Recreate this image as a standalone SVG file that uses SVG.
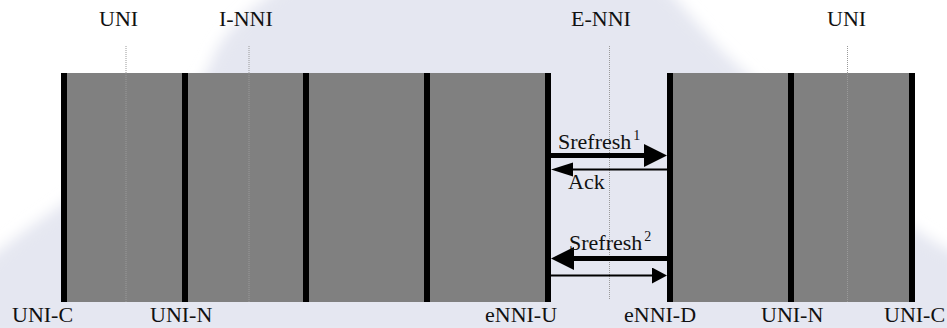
<svg xmlns="http://www.w3.org/2000/svg" width="947" height="328" viewBox="0 0 947 328">
  <style>
    text { font-family: Liberation Serif, Times New Roman, Tinos, DejaVu Serif, serif; font-size: 22px; fill: #111; }
    .sup { font-size: 14px; }
    .seg { fill: #808080; }
    .bar { fill: #000; }
    .dot { stroke: #9a9a9a; stroke-width: 1; stroke-dasharray: 1 1; fill: none; }
    .thick { stroke: #000; stroke-width: 5; fill: none; }
    .thin { stroke: #000; stroke-width: 2; fill: none; }
  </style>
  <defs>
    <filter id="soft" x="-10%" y="-10%" width="120%" height="120%">
      <feGaussianBlur stdDeviation="7"/>
    </filter>
    <marker id="bigHead" markerUnits="userSpaceOnUse" markerWidth="24" markerHeight="24" refX="0" refY="11.5" orient="auto">
      <path d="M0,0 L23,11.5 L0,23 z" fill="#000"/>
    </marker>
    <marker id="smallHead" markerUnits="userSpaceOnUse" markerWidth="24" markerHeight="16" refX="0" refY="7" orient="auto">
      <path d="M0,0 L22,7 L0,14 z" fill="#000"/>
    </marker>
    <marker id="tinyHead" markerUnits="userSpaceOnUse" markerWidth="16" markerHeight="18" refX="0" refY="8" orient="auto">
      <path d="M0,0 L15,8 L0,16 z" fill="#000"/>
    </marker>
  </defs>

  <rect width="947" height="328" fill="#fff"/>
  <g id="background">
    <path filter="url(#soft)" fill="#e5e7f1" d="M292,-20 L658,-20 C688,10 712,45 745,72 C800,120 880,220 960,255 L960,340 L-15,340 L-15,262 C30,225 70,200 110,170 C160,130 200,95 214,55 C232,20 262,0 292,-20 Z"/>
  </g>

  <g id="interfaces">
    <line class="dot" x1="126" y1="46" x2="126" y2="302"/>
    <line class="dot" x1="249" y1="46" x2="249" y2="302"/>
    <line class="dot" x1="609.5" y1="46" x2="609.5" y2="300"/>
    <line class="dot" x1="847.5" y1="46" x2="847.5" y2="302"/>
  </g>

  <g id="domain-left">
    <rect class="seg" x="61" y="73" width="490" height="229"/>
    <line class="dot" x1="126" y1="73" x2="126" y2="302"/>
    <line class="dot" x1="249" y1="73" x2="249" y2="302"/>
    <rect class="bar" x="61" y="73" width="6" height="229"/>
    <rect class="bar" x="182" y="73" width="6" height="229"/>
    <rect class="bar" x="303" y="73" width="6" height="229"/>
    <rect class="bar" x="424" y="73" width="6" height="229"/>
    <rect class="bar" x="545" y="73" width="6" height="229"/>
  </g>

  <g id="domain-right">
    <rect class="seg" x="667" y="73" width="248" height="229"/>
    <line class="dot" x1="847.5" y1="73" x2="847.5" y2="302"/>
    <rect class="bar" x="667" y="73" width="6" height="229"/>
    <rect class="bar" x="788" y="73" width="6" height="229"/>
    <rect class="bar" x="909" y="73" width="6" height="229"/>
  </g>

  <g id="top-labels">
    <text x="99" y="26">UNI</text>
    <text x="219" y="26">I-NNI</text>
    <text x="571" y="26">E-NNI</text>
    <text x="827" y="26">UNI</text>
  </g>

  <g id="bottom-labels">
    <text x="12" y="322">UNI-C</text>
    <text x="150" y="322">UNI-N</text>
    <text x="485" y="322">eNNI-U</text>
    <text x="624" y="322">eNNI-D</text>
    <text x="761" y="322">UNI-N</text>
    <text x="884" y="322">UNI-C</text>
  </g>

  <g id="connectors">
    <line class="thick" x1="551" y1="155.5" x2="644" y2="155.5" marker-end="url(#bigHead)"/>
    <line class="thin" x1="667" y1="169.5" x2="573" y2="169.5" marker-end="url(#smallHead)"/>
    <line class="thick" x1="667" y1="258.5" x2="574" y2="258.5" marker-end="url(#bigHead)"/>
    <line class="thin" x1="551" y1="275.5" x2="652" y2="275.5" marker-end="url(#tinyHead)"/>
    <text x="558" y="149">Srefresh<tspan class="sup" dx="2" dy="-9">1</tspan></text>
    <text x="568" y="189">Ack</text>
    <text x="569" y="250">Srefresh<tspan class="sup" dx="2" dy="-9">2</tspan></text>
  </g>
</svg>
